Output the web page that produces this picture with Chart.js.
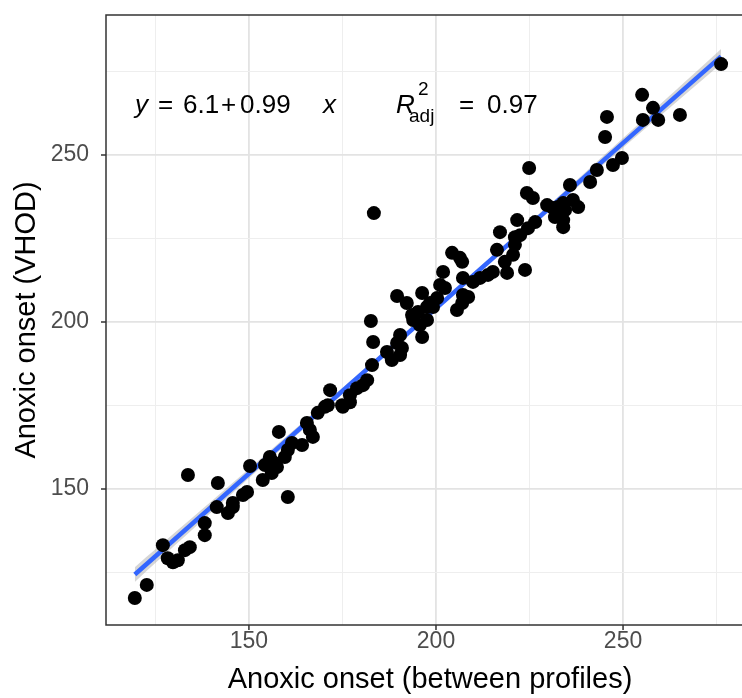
<!DOCTYPE html>
<html lang="en">
<head>
  <meta charset="UTF-8" />
  <title>Anoxic onset</title>
  <script src="https://cdn.jsdelivr.net/npm/chart.js@4"></script>
  <style>
    body { margin: 0; overflow: hidden; background: #fff; }
    #wrap { width: 780px; height: 698px; }
  </style>
</head>
<body>
  <div id="wrap"><canvas id="chart"></canvas></div>

  <script>
    // anoxic onset (day of year): between profiles vs VHOD estimate
    const onsetProfiles = [
      119.5, 122.7, 127.0, 128.3, 129.7, 131.0, 132.9, 134.2, 133.7, 138.2,
      138.2, 141.4, 141.7, 144.4, 145.7, 145.7, 148.4, 149.5, 150.3, 153.7,
      154.3, 155.6, 156.1, 156.4, 157.5, 158.0, 159.6, 160.4, 160.4, 161.5,
      164.2, 165.5, 166.3, 167.1, 168.4, 170.3, 171.1, 171.7, 175.1, 177.0,
      174.9, 177.0, 178.9, 180.5, 181.6, 182.9, 182.6, 183.4, 183.2, 188.2,
      186.9, 189.6, 190.4, 190.9, 190.4, 189.6, 192.2, 193.9, 193.6, 195.2,
      195.7, 196.3, 196.3, 197.6, 197.6, 198.4, 199.2, 200.3, 201.1, 201.9,
      202.4, 204.3, 206.4, 207.0, 207.2, 207.2, 208.6, 207.0, 205.6, 209.9,
      211.8, 213.9, 215.2, 216.3, 217.1, 218.4, 219.0, 220.6, 221.1, 221.1,
      222.5, 221.7, 223.8, 224.6, 224.3, 225.9, 224.9, 226.5, 229.7, 231.3,
      232.6, 231.8, 234.0, 234.0, 234.5, 234.0, 236.6, 235.8, 238.0, 241.2,
      243.0, 245.2, 245.7, 247.3, 249.7, 255.1, 255.3, 258.0, 259.4, 265.2,
      276.2
    ];
    const onsetVHOD = [
      117.4, 121.3, 133.2, 129.3, 128.1, 128.7, 131.7, 132.6, 154.2, 136.2,
      139.8, 144.6, 151.8, 142.8, 144.6, 145.8, 148.2, 149.1, 156.9, 152.7,
      157.2, 159.6, 154.8, 158.1, 156.6, 167.1, 159.6, 161.7, 147.6, 163.8,
      163.2, 169.8, 167.7, 165.6, 172.8, 174.6, 175.1, 179.6, 174.6, 176.0,
      175.1, 178.1, 180.2, 181.1, 182.6, 187.1, 200.3, 232.6, 194.0, 188.6,
      191.0, 193.7, 196.1, 192.2, 190.1, 207.8, 205.7, 200.6, 202.1, 203.0,
      199.1, 195.5, 208.7, 200.6, 204.5, 205.7, 204.5, 207.2, 211.1, 215.0,
      210.2, 220.7, 219.2, 218.0, 213.2, 208.1, 207.5, 205.7, 203.6, 212.0,
      213.2, 214.1, 215.0, 221.6, 226.9, 218.0, 214.7, 220.1, 223.1, 225.4,
      226.0, 230.5, 215.6, 228.1, 238.6, 237.1, 246.1, 229.9, 235.0, 234.1,
      234.4, 231.4, 230.5, 228.4, 233.5, 235.6, 236.5, 241.0, 234.4, 241.9,
      245.5, 255.4, 261.4, 247.0, 249.1, 268.0, 260.5, 264.1, 260.5, 262.0,
      277.2
    ];

    // fitted line y = 6.1 + 0.99 x over the data range, and its confidence band
    const fitX = [119.5, 276.2];
    const fitY = [124.4, 279.5];
    const bandX = [119.5, 160, 200, 240, 276.2];
    const bandLow = [122.2, 163.3, 203.3, 242.5, 277.3];
    const bandHigh = [126.6, 165.7, 204.9, 244.9, 281.7];

    const majorTicks = [150, 200, 250];
    const gridTicks = [125, 150, 175, 200, 225, 250, 275];

    const FONT = '"Liberation Sans", Arial, sans-serif';

    const toPts = (xs, ys) => xs.map((x, i) => ({ x: x, y: ys[i] }));

    function setTicks(scale) {
      scale.ticks = gridTicks.map(v => ({ value: v }));
    }

    const gridStyle = {
      color: ctx => majorTicks.includes(ctx.tick && ctx.tick.value) ? '#e3e3e3' : '#eeeeee',
      lineWidth: ctx => majorTicks.includes(ctx.tick && ctx.tick.value) ? 1.8 : 1,
      drawTicks: false
    };

    // panel border, tick marks and the equation text
    const decor = {
      id: 'decor',
      afterDraw(chart) {
        const { ctx, chartArea: a, scales } = chart;
        ctx.save();
        ctx.strokeStyle = '#333';
        ctx.lineWidth = 1.5;
        ctx.strokeRect(a.left, a.top, a.right - a.left, a.bottom - a.top);
        ctx.beginPath();
        majorTicks.forEach(v => {
          const px = scales.x.getPixelForValue(v);
          ctx.moveTo(px, a.bottom); ctx.lineTo(px, a.bottom + 5);
          const py = scales.y.getPixelForValue(v);
          ctx.moveTo(a.left, py); ctx.lineTo(a.left - 5, py);
        });
        ctx.stroke();

        ctx.fillStyle = '#000';
        ctx.textBaseline = 'alphabetic';
        ctx.textAlign = 'left';
        const base = 113;
        const reg = '26px ' + FONT;
        const ital = 'italic 26px ' + FONT;
        const small = '19px ' + FONT;
        const parts = [
          ['y', ital, 135, base], ['=', reg, 158, base], ['6.1', reg, 183, base],
          ['+', reg, 221, base], ['0.99', reg, 240, base], ['x', ital, 323, base],
          ['R', ital, 396, base], ['2', small, 418, 95], ['adj', small, 409, 122],
          ['=', reg, 459, base], ['0.97', reg, 487, base]
        ];
        parts.forEach(p => { ctx.font = p[1]; ctx.fillText(p[0], p[2], p[3]); });
        ctx.restore();
      }
    };

    new Chart(document.getElementById('chart'), {
      type: 'scatter',
      data: {
        datasets: [
          {
            data: toPts(onsetProfiles, onsetVHOD),
            backgroundColor: '#000',
            borderWidth: 0,
            pointRadius: 7,
            pointHoverRadius: 7
          },
          {
            data: toPts(fitX, fitY),
            showLine: true,
            borderColor: '#3366FF',
            borderWidth: 4.5,
            pointRadius: 0
          },
          {
            data: toPts(bandX, bandHigh),
            showLine: true,
            borderWidth: 0,
            pointRadius: 0,
            tension: 0.4,
            backgroundColor: 'rgba(153,153,153,0.4)',
            fill: '+1'
          },
          {
            data: toPts(bandX, bandLow),
            showLine: true,
            borderWidth: 0,
            pointRadius: 0,
            tension: 0.4
          }
        ]
      },
      options: {
        responsive: true,
        maintainAspectRatio: false,
        animation: false,
        events: [],
        layout: { padding: { top: 15, right: 26, left: 0, bottom: 0 } },
        plugins: { legend: { display: false }, tooltip: { enabled: false } },
        scales: {
          x: {
            type: 'linear',
            min: 111.8,
            max: 285.0,
            afterBuildTicks: setTicks,
            afterFit: s => { s.height = 73; s.paddingLeft = 0; s.paddingRight = 0; },
            grid: gridStyle,
            border: { display: false },
            ticks: {
              padding: 3,
              color: '#4d4d4d',
              font: { family: FONT, size: 23 },
              maxRotation: 0,
              autoSkip: false,
              callback: v => majorTicks.includes(v) ? String(v) : ''
            },
            title: {
              display: true,
              text: 'Anoxic onset (between profiles)',
              color: '#000',
              font: { family: FONT, size: 29 },
              padding: { top: 0, bottom: 1 }
            }
          },
          y: {
            type: 'linear',
            min: 109.3,
            max: 291.9,
            afterBuildTicks: setTicks,
            afterFit: s => { s.width = 106; s.paddingTop = 0; s.paddingBottom = 0; },
            grid: gridStyle,
            border: { display: false },
            ticks: {
              padding: 17,
              color: '#4d4d4d',
              font: { family: FONT, size: 23 },
              autoSkip: false,
              callback: v => majorTicks.includes(v) ? String(v) : ''
            },
            title: {
              display: true,
              text: 'Anoxic onset (VHOD)',
              color: '#000',
              font: { family: FONT, size: 29 },
              padding: { top: 10, bottom: 0 }
            }
          }
        }
      },
      plugins: [decor]
    });
  </script>
</body>
</html>
